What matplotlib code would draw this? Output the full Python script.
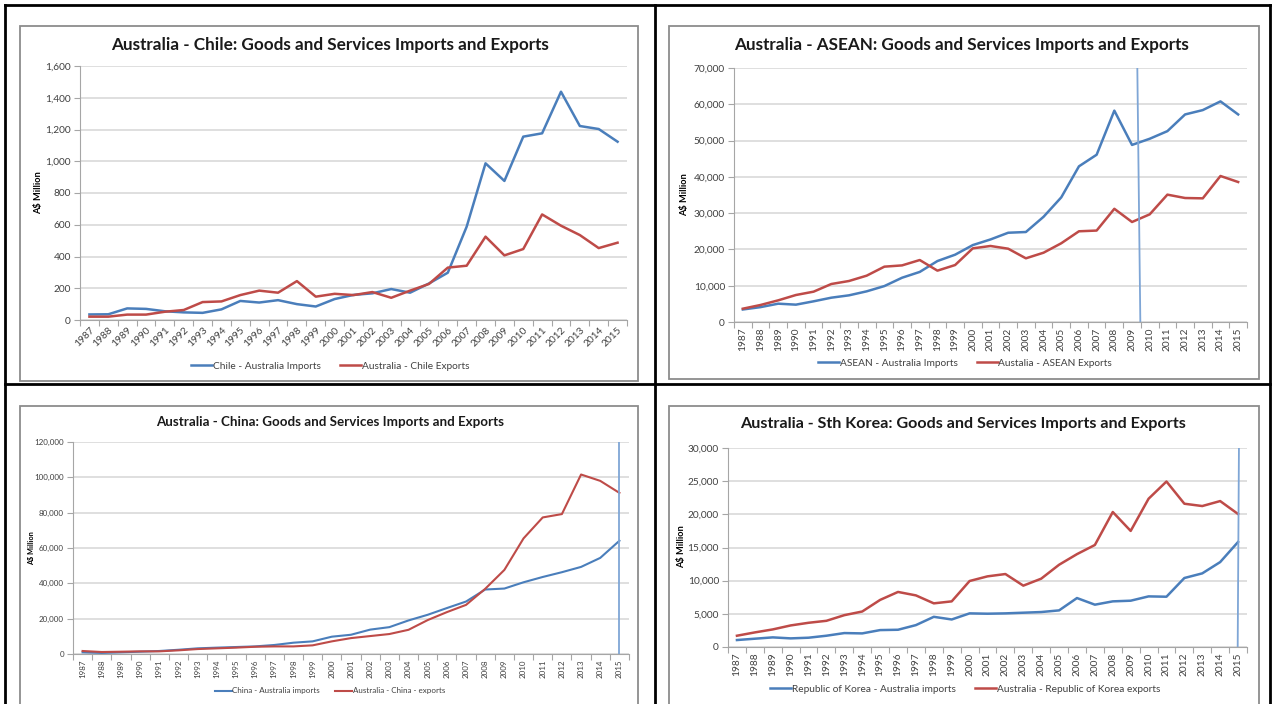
import matplotlib
matplotlib.use("Agg")
import matplotlib.pyplot as plt
import matplotlib.ticker as mticker
from matplotlib.patches import Rectangle
from matplotlib.lines import Line2D

W, H = 1275, 704
plt.rcParams['font.family'] = ['Lato', 'DejaVu Sans']

years = [str(y) for y in range(1987, 2016)]

# A$ million
chile_imports = [35, 36, 73, 70, 55, 48, 45, 67, 120, 110, 125, 100, 85, 132, 158, 168,
                 195, 172, 230, 298, 588, 987, 876, 1155, 1176, 1438, 1222, 1203, 1123]
chile_exports = [21, 21, 34, 34, 52, 63, 113, 117, 157, 185, 172, 245, 147, 165, 157, 176,
                 140, 185, 227, 330, 342, 525, 407, 447, 665, 594, 535, 453, 487]

asean_imports = [3450, 4100, 5050, 4780, 5700, 6700, 7350, 8450, 9900, 12200, 13800, 16800,
                 18550, 21200, 22750, 24600, 24800, 29000, 34350, 42900, 46100, 58250, 48800,
                 50500, 52600, 57200, 58400, 60800, 57200]
asean_exports = [3670, 4690, 5970, 7440, 8360, 10470, 11300, 12770, 15250, 15600, 17080, 14150,
                 15700, 20300, 20950, 20200, 17550, 19100, 21700, 25000, 25200, 31200, 27560,
                 29670, 35100, 34170, 34080, 40240, 38580]

china_imports = [950, 600, 950, 1300, 1700, 2400, 3200, 3600, 3950, 4300, 5100, 6400, 7150,
                 9800, 10900, 13800, 15200, 19000, 22200, 26000, 29700, 36500, 37050, 40600,
                 43600, 46300, 49300, 54400, 64100]
china_exports = [1700, 1130, 1300, 1500, 1500, 2070, 2800, 3200, 3600, 4100, 4300, 4300, 4900,
                 7150, 9000, 10150, 11300, 13700, 19200, 23700, 27800, 36900, 47600, 65450,
                 77300, 79200, 101600, 98000, 91200]

korea_imports = [1050, 1250, 1450, 1300, 1400, 1700, 2100, 2050, 2550, 2600, 3300, 4550, 4150,
                 5070, 5020, 5070, 5170, 5270, 5520, 7380, 6380, 6880, 6980, 7630, 7580, 10400,
                 11100, 12800, 15830]
korea_exports = [1700, 2200, 2650, 3250, 3650, 3950, 4800, 5350, 7100, 8300, 7780, 6580, 6880,
                 9950, 10650, 11000, 9250, 10300, 12400, 14000, 15380, 20350, 17500, 22350,
                 24950, 21600, 21250, 22000, 20050]

BLUE = '#4a7ebb'
RED = '#be4b48'
MARK = '#7fa6d6'
GRID = '#d9d9d9'
AXC = '#a6a6a6'

fig = plt.figure(figsize=(W / 100, H / 100), dpi=100)


def box(l, t, r, b):
    return [l / W, 1 - b / H, (r - l) / W, (b - t) / H]


def fx(x):
    return x / W


def fy(y):
    return 1 - y / H


charts = [
    dict(title='Australia - Chile: Goods and Services Imports and Exports',
         imp=chile_imports, exp=chile_exports,
         labels=('Chile - Australia Imports', 'Australia - Chile Exports'),
         frame=(20, 26, 638, 381), ax=(80, 66, 627, 320), ymax=1600, step=200,
         title_xy=(330, 45), title_fs=12.3, leg_xy=(330, 366), ylab_xy=(39, 193),
         rot=45, tick_fs=7.3, lw=1.8, vline=None),
    dict(title='Australia - ASEAN: Goods and Services Imports and Exports',
         imp=asean_imports, exp=asean_exports,
         labels=('ASEAN - Australia Imports', 'Austalia - ASEAN Exports'),
         frame=(669, 26, 1259, 379), ax=(734, 68, 1247, 322), ymax=70000, step=10000,
         title_xy=(962, 45), title_fs=12.3, leg_xy=(965, 363), ylab_xy=(685, 195),
         rot=90, tick_fs=7.3, lw=1.8, vline=((22.3, 70000), (22.47, 0))),
    dict(title='Australia - China: Goods and Services Imports and Exports',
         imp=china_imports, exp=china_exports,
         labels=('China - Australia imports', 'Australia - China - exports'),
         frame=(20, 406, 638, 720), ax=(73, 442, 629, 654), ymax=120000, step=20000,
         title_xy=(330, 422), title_fs=9.6, leg_xy=(330, 691), ylab_xy=(32, 548),
         rot=90, tick_fs=5.8, lw=1.5, vline=((28, 120000), (28, 0))),
    dict(title='Australia - Sth Korea: Goods and Services Imports and Exports',
         imp=korea_imports, exp=korea_exports,
         labels=('Republic of Korea - Australia imports', 'Australia - Republic of Korea exports'),
         frame=(669, 406, 1259, 720), ax=(728, 448, 1247, 647), ymax=30000, step=5000,
         title_xy=(963, 424), title_fs=11.6, leg_xy=(965, 689), ylab_xy=(682, 547),
         rot=90, tick_fs=7.3, lw=1.8, vline=((28.05, 30000), (27.98, 0))),
]

x = list(range(len(years)))

for c in charts:
    l, t, r, b = c['frame']
    fig.patches.append(Rectangle((fx(l), fy(b)), (r - l) / W, (b - t) / H,
                                 transform=fig.transFigure, fill=False,
                                 edgecolor='#8c8c8c', linewidth=1.3))
    ax = fig.add_axes(box(*c['ax']))
    ax.plot(x, c['imp'], color=BLUE, lw=c['lw'], label=c['labels'][0])
    ax.plot(x, c['exp'], color=RED, lw=c['lw'], label=c['labels'][1])
    if c['vline'] is not None:
        (x0, y0), (x1, y1) = c['vline']
        ax.plot([x0, x1], [y0, y1], color=MARK, lw=1.3)
    ax.set_xlim(-0.5, len(years) - 0.5)
    ax.set_ylim(0, c['ymax'])
    ax.yaxis.set_major_locator(mticker.MultipleLocator(c['step']))
    ax.yaxis.set_major_formatter(mticker.FuncFormatter(lambda v, p: f'{int(v):,}'))
    ax.grid(axis='y', color=GRID, lw=1.2)
    ax.set_axisbelow(True)
    for s in ('top', 'right'):
        ax.spines[s].set_visible(False)
    for s in ('left', 'bottom'):
        ax.spines[s].set_color(AXC)
        ax.spines[s].set_linewidth(0.8)
    ax.set_xticks(x)
    if c['rot'] == 45:
        ax.set_xticklabels(years, rotation=45, ha='right', rotation_mode='anchor')
    else:
        ax.set_xticklabels(years, rotation=90)
    ax.set_xticks([i - 0.5 for i in range(len(years) + 1)], minor=True)
    ax.tick_params(axis='x', which='major', length=0, pad=4, labelsize=c['tick_fs'],
                   labelcolor='#404040')
    ax.tick_params(axis='x', which='minor', length=4, color=AXC, width=0.8)
    ax.tick_params(axis='y', length=4, pad=2.5, color=AXC, width=0.8,
                   labelsize=c['tick_fs'], labelcolor='#404040')
    fig.text(fx(c['title_xy'][0]), fy(c['title_xy'][1]), c['title'], ha='center', va='center',
             fontsize=c['title_fs'], fontweight='bold', color='#1a1a1a')
    fig.text(fx(c['ylab_xy'][0]), fy(c['ylab_xy'][1]), 'A$ Million', rotation=90,
             ha='center', va='center', fontsize=c['tick_fs'] - 0.6, fontweight='bold')
    ax.legend(loc='center', bbox_to_anchor=(fx(c['leg_xy'][0]), fy(c['leg_xy'][1])),
              bbox_transform=fig.transFigure, ncol=2, frameon=False, handlelength=2.1,
              handletextpad=0.05, columnspacing=1.9, fontsize=c['tick_fs'],
              labelcolor='#404040')

# black table rules round the four charts
for (x0, y0, x1, y1) in [(5, 5, 1270, 5), (5, 5, 5, 704), (1270, 5, 1270, 704),
                         (655, 5, 655, 704), (5, 384, 1270, 384)]:
    fig.add_artist(Line2D([fx(x0), fx(x1)], [fy(y0), fy(y1)], transform=fig.transFigure,
                          color='black', lw=2))

fig.savefig('out.png', dpi=100)
